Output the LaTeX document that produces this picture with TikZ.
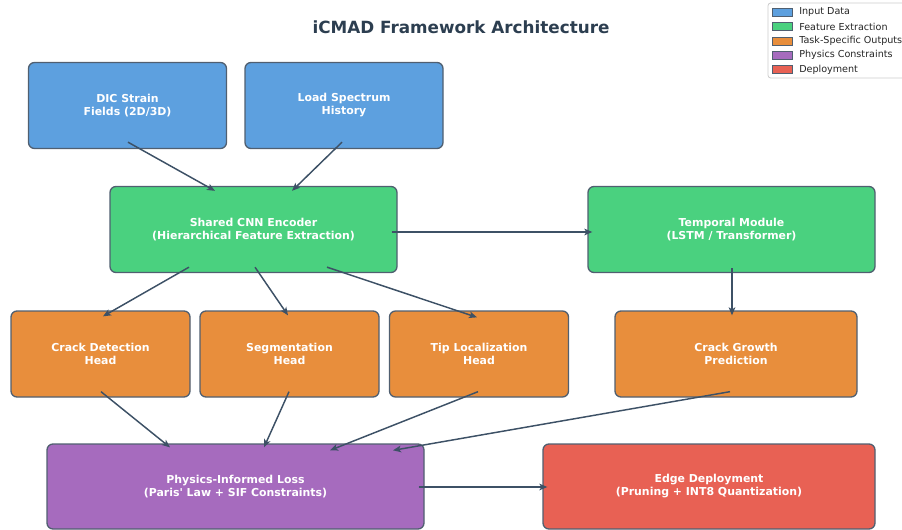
\documentclass[tikz,border=0pt]{standalone}
\usepackage{fontspec}
\usepackage{tikz}
\usetikzlibrary{calc}
\usetikzlibrary{arrows.meta}
\newfontfamily\dejavu{DejaVu Sans}

\definecolor{inblue}{RGB}{93,160,223}
\definecolor{featgreen}{RGB}{74,209,127}
\definecolor{taskorange}{RGB}{232,142,60}
\definecolor{physpurple}{RGB}{166,107,190}
\definecolor{deployred}{RGB}{232,97,84}
\definecolor{edgegray}{RGB}{80,95,112}
\definecolor{arrowgray}{RGB}{61,81,102}
\definecolor{titlegray}{RGB}{44,62,80}

\begin{document}
\begin{tikzpicture}[
            x=0.75pt, y=-0.75pt,
            main node/.style={rectangle, rounded corners=4.5pt, draw=edgegray, line width=1pt,
                text=white, align=center, inner sep=0pt,
                font=\dejavu\bfseries\fontsize{8.2}{9.75}\selectfont},
            flow/.style={-{Stealth[length=6pt, width=5pt, inset=1.5pt]}, draw=arrowgray, fill=arrowgray, line width=1.1pt},
            swatch/.style={draw=edgegray, line width=0.6pt, minimum width=15pt, minimum height=6pt, inner sep=0pt},
            legend text/.style={anchor=west, inner sep=0pt, text=black!85,
                font=\dejavu\fontsize{7.2}{8}\selectfont},
            ]
            \useasboundingbox (0,0) rectangle (902,529);
            \def\W{148.5}
            \def\H{64.5}

            \node[font=\dejavu\bfseries\fontsize{12.6}{15}\selectfont, text=titlegray] (title) at (461,27) {iCMAD Framework Architecture};

            % inputs
            \node[main node, fill=inblue, minimum width=\W, minimum height=\H] (dic) at (127.5,105.5) {DIC Strain\\Fields (2D/3D)};
            \node[main node, fill=inblue, minimum width=\W, minimum height=\H] (load) at (344,105.5) {Load Spectrum\\History};

            % feature extraction
            \node[main node, fill=featgreen, minimum width=215.25, minimum height=\H] (cnn) at (253.5,229.5) {Shared CNN Encoder\\(Hierarchical Feature Extraction)};
            \node[main node, fill=featgreen, minimum width=215.25, minimum height=\H] (temporal) at (731.5,229.5) {Temporal Module\\(LSTM / Transformer)};

            % task heads
            \node[main node, fill=taskorange, minimum width=134.25, minimum height=\H] (detect) at (100.5,354) {Crack Detection\\Head};
            \node[main node, fill=taskorange, minimum width=134.25, minimum height=\H] (segment) at (289.5,354) {Segmentation\\Head};
            \node[main node, fill=taskorange, minimum width=134.25, minimum height=\H] (tip) at (479,354) {Tip Localization\\Head};
            \node[main node, fill=taskorange, minimum width=181.5, minimum height=\H] (growth) at (736,354) {Crack Growth\\Prediction};

            % physics + deployment
            \node[main node, fill=physpurple, minimum width=282.75, minimum height=63.75] (physics) at (235.5,486.5) {Physics-Informed Loss\\(Paris' Law + SIF Constraints)};
            \node[main node, fill=deployred, minimum width=249, minimum height=63.75] (edge) at (709,486.5) {Edge Deployment\\(Pruning + INT8 Quantization)};

            \draw[flow] ($(dic.south)+(0.5,-7)$) -- ($(cnn.north)+(-38.5,5)$);
            \draw[flow] ($(load.south)+(-2,-7)$) -- ($(cnn.north)+(38.5,5)$);
            \draw[flow] ($(cnn.east)+(-6,2.5)$) -- ($(temporal.west)+(5,2.5)$);
            \draw[flow] ($(temporal.south)+(0.5,-5)$) -- ($(growth.north)+(-4,5)$);
            \draw[flow] ($(cnn.south)+(-64.5,-6)$) -- ($(detect.north)+(2.5,6)$);
            \draw[flow] ($(cnn.south)+(1.5,-6)$) -- ($(segment.north)+(-1.5,5)$);
            \draw[flow] ($(cnn.south)+(73.5,-6)$) -- ($(tip.north)+(-2,7)$);
            \draw[flow] ($(detect.south)+(0.5,-6)$) -- ($(physics.north)+(-65.5,4)$);
            \draw[flow] ($(segment.south)+(-0.5,-6)$) -- ($(physics.north)+(28.5,4)$);
            \draw[flow] ($(tip.south)+(-1,-6)$) -- ($(physics.north)+(94.5,7)$);
            \draw[flow] ($(growth.south)+(-6,-6)$) -- ($(physics.north)+(157.5,7)$);
            \draw[flow] ($(physics.east)+(-6,0.5)$) -- ($(edge.west)+(5,0.5)$);

            % legend
            \draw[draw=black!20, fill=white, line width=0.6pt, rounded corners=2pt] (768,3) rectangle (910,78);
            \node[swatch, fill=inblue] (sw1) at (782,12) {};
            \node[swatch, fill=featgreen] (sw2) at (782,26.5) {};
            \node[swatch, fill=taskorange] (sw3) at (782,41) {};
            \node[swatch, fill=physpurple] (sw4) at (782,55) {};
            \node[swatch, fill=deployred] (sw5) at (782,69.5) {};
            \node[legend text] (lg1) at (799,12) {Input Data};
            \node[legend text] (lg2) at (799,26.5) {Feature Extraction};
            \node[legend text] (lg3) at (799,41) {Task-Specific Outputs};
            \node[legend text] (lg4) at (799,55) {Physics Constraints};
            \node[legend text] (lg5) at (799,69.5) {Deployment};
        \end{tikzpicture}
\end{document}
